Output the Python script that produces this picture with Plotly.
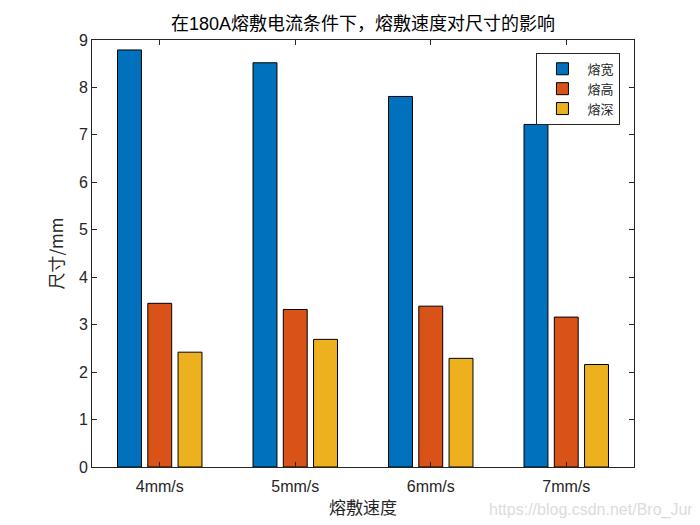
import plotly.graph_objects as go

categories = ["4mm/s", "5mm/s", "6mm/s", "7mm/s"]
series_names = ["熔宽", "熔高", "熔深"]
width_vals = [8.79, 8.52, 7.81, 7.22]
height_vals = [3.45, 3.32, 3.39, 3.16]
depth_vals = [2.42, 2.69, 2.29, 2.16]
colors = ["#0072BD", "#D95319", "#EDB120"]
y_ticks = [0, 1, 2, 3, 4, 5, 6, 7, 8, 9]

fig = go.Figure()
for name, vals, c in zip(series_names, [width_vals, height_vals, depth_vals], colors):
    fig.add_trace(go.Bar(
        x=categories, y=vals, name=name,
        marker=dict(color=c, line=dict(color="black", width=1)),
    ))

cjk = "Noto Sans CJK SC"
fig.update_layout(
    width=700, height=525,
    margin=dict(l=84, r=74, t=32, b=66),
    paper_bgcolor="white", plot_bgcolor="white",
    barmode="group", bargap=0.33, bargroupgap=0.21,
    title=dict(text="在180A熔敷电流条件下，熔敷速度对尺寸的影响",
               x=0.5, xref="paper", xanchor="center", y=0.9695, yanchor="middle",
               font=dict(family="Liberation Sans, " + cjk, size=18, color="black")),
    font=dict(family="Liberation Sans, " + cjk, size=16, color="#262626"),
    legend=dict(x=0.975, y=0.97, xanchor="right", yanchor="top",
                bgcolor="white", bordercolor="#262626", borderwidth=1,
                font=dict(family=cjk, size=13, color="#262626"),
                tracegroupgap=0, itemwidth=40),
    showlegend=True,
)
fig.update_xaxes(
    range=[-0.5, 3.5], showline=True, linecolor="#262626", linewidth=1, mirror="ticks",
    ticks="inside", ticklen=5, tickcolor="#262626", ticklabelstandoff=5,
    title=dict(text="熔敷速度", font=dict(family=cjk, size=17, color="#262626"), standoff=7),
    tickfont=dict(family="Liberation Sans", size=16, color="#262626"),
    showgrid=False, zeroline=False,
)
fig.update_yaxes(
    range=[0, 9], tickvals=y_ticks, showline=True, linecolor="#262626", linewidth=1, mirror="ticks",
    ticks="inside", ticklen=5, tickcolor="#262626",
    title=dict(text="尺寸/mm", font=dict(family=cjk, size=17, color="#262626"), standoff=10),
    tickfont=dict(family="Liberation Sans", size=16, color="#262626"),
    showgrid=False, zeroline=False,
)
fig.add_annotation(text="https://blog.csdn.net/Bro_Jun", xref="paper", yref="paper",
                   x=0.729, y=-0.1, xanchor="left", yanchor="middle", showarrow=False,
                   font=dict(family="Liberation Sans", size=16, color="#dcdcdc"))
fig.write_html("out.html")
